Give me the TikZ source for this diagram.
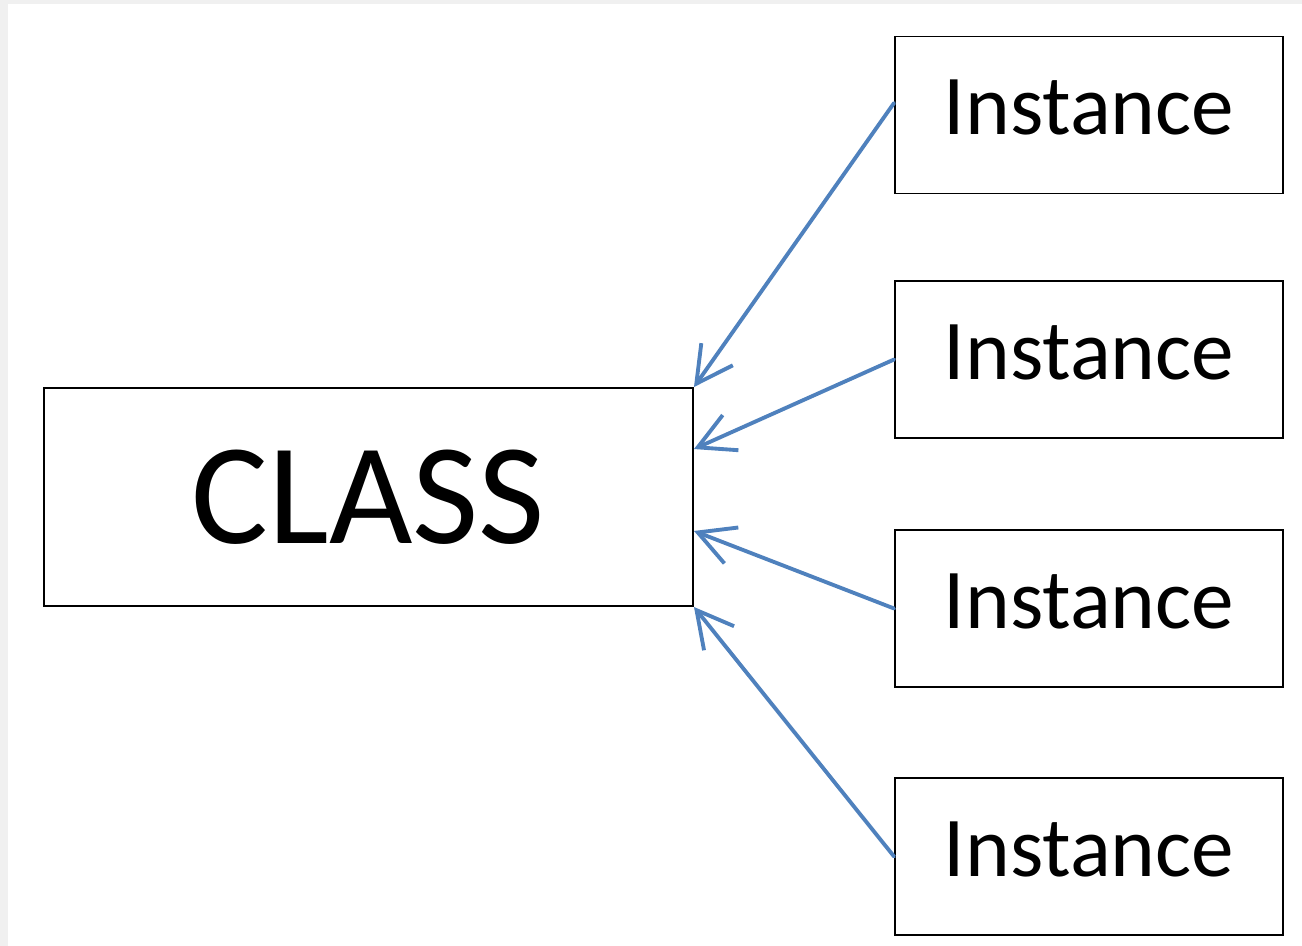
\documentclass[tikz,border=0pt]{standalone}
\usepackage{fontspec}
\setmainfont{Carlito}
\usetikzlibrary{arrows.meta, positioning}
\definecolor{linkblue}{RGB}{79,129,189}
\definecolor{edgegray}{RGB}{240,240,240}

\begin{document}
\begin{tikzpicture}[
  clsbox/.style={rectangle, draw=black, line width=1.1pt, fill=white,
                 minimum width=12.98cm, minimum height=4.36cm,
                 font=\fontsize{82}{90}\selectfont},
  instbox/.style={rectangle, draw=black, line width=1.1pt, fill=white,
                  minimum width=7.76cm, minimum height=3.14cm,
                  text depth=0.3cm,
                  font=\fontsize{48.5}{56}\selectfont},
  arr/.style={-{Straight Barb[length=0.72cm, width=0.77cm]},
              line width=2.2pt, color=linkblue, line cap=round}
]
% page frame with the faint shadow at top and left
\useasboundingbox (0,0) rectangle (26.04,-18.92);
\fill[edgegray] (0,0) rectangle (26.04,-0.08);
\fill[edgegray] (0,0) rectangle (0.16,-18.92);

\node[clsbox]  (C)  at (7.37,-9.94)   {CLASS};
\node[instbox] (I1) at (21.78,-2.30)  {Instance};
\node[instbox] (I2) at (21.78,-7.19)  {Instance};
\node[instbox] (I3) at (21.78,-12.17) {Instance};
\node[instbox] (I4) at (21.78,-17.13) {Instance};

\coordinate (c1) at (C.north east);
\coordinate (c2) at ([yshift=-1.24cm]C.north east);
\coordinate (c3) at ([yshift=1.52cm]C.south east);
\coordinate (c4) at (C.south east);

\draw[arr] ([yshift=0.24cm]I1.west) -- (c1);
\draw[arr] (I2.west) -- (c2);
\draw[arr] (I3.west) -- (c3);
\draw[arr] (I4.west) -- (c4);
\end{tikzpicture}
\end{document}
